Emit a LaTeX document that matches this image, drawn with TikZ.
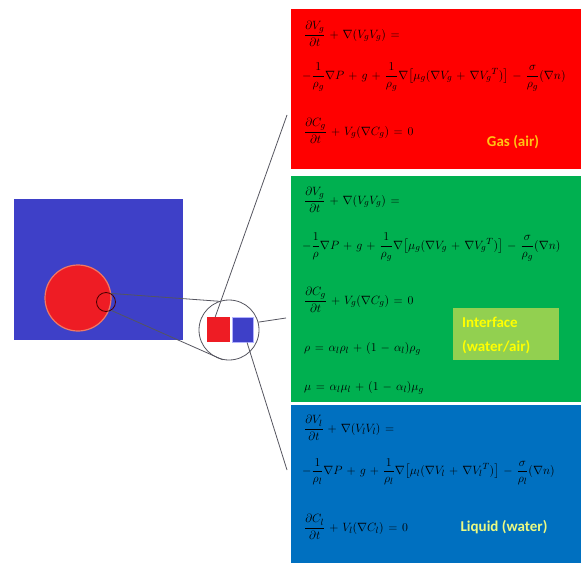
\documentclass[tikz,border=0pt]{standalone}
\usepackage{amsmath}
\usepackage{fontspec}
\newfontfamily\labelfont{Carlito}
\usetikzlibrary{calc}

\definecolor{gasred}{RGB}{255,0,0}
\definecolor{ifgreen}{RGB}{0,176,80}
\definecolor{liqblue}{RGB}{0,112,192}
\definecolor{domblue}{RGB}{62,64,200}
\definecolor{dropred}{RGB}{238,28,36}
\definecolor{droprim}{RGB}{240,120,100}
\definecolor{gaslabel}{RGB}{255,196,20}
\definecolor{iflabelbg}{RGB}{146,208,80}
\definecolor{iflabel}{RGB}{255,255,0}
\definecolor{liqlabel}{RGB}{235,250,130}
\definecolor{wire}{RGB}{85,85,95}

\newcommand{\eqspacing}{\medmuskip=6mu plus 2mu\thickmuskip=7mu plus 3mu}

\tikzset{
  panel/.style={anchor=north west, inner sep=0pt, minimum width=290pt},
  eqn/.style={anchor=west, inner sep=0pt, font=\fontsize{13}{15}\selectfont\eqspacing, text=black},
  tag/.style={font=\labelfont\bfseries\fontsize{15}{17}\selectfont, inner sep=0pt},
  wireline/.style={draw=wire, line width=0.8pt},
}

\begin{document}
\begin{tikzpicture}[x=1pt, y=-1pt]
\useasboundingbox (0,0) rectangle (585,564);

% ---- flow domain with the droplet ----
\node[anchor=north west, fill=domblue, minimum width=169pt, minimum height=141pt, inner sep=0pt] (domain) at (14,199) {};
\node[circle, fill=dropred, draw=droprim, line width=1.2pt, minimum size=66pt, inner sep=0pt] (drop) at (78,298) {};
\node[circle, draw=black!70!red, line width=0.8pt, minimum size=19pt, inner sep=0pt] (probe) at (106,302) {};

% ---- magnified interface ----
\node[circle, draw=wire, line width=0.8pt, minimum size=60pt, inner sep=0pt] (mag) at (229,330) {};
\node[anchor=north west, fill=dropred, minimum width=23pt, minimum height=25pt, inner sep=0pt] (rsq) at (207,317) {};
\node[anchor=north west, fill=domblue, draw=blue!30, line width=0.5pt, minimum width=21pt, minimum height=25pt, inner sep=0pt] (bsq) at (232,317) {};

% ---- panels ----
\node[panel, fill=gasred, minimum height=160pt] (gas) at (291,9) {};
\node[panel, fill=ifgreen, minimum height=226pt] (iface) at (291,176) {};
\node[panel, fill=liqblue, minimum height=158pt] (liq) at (291,405) {};

% gas phase equations
\node[eqn] (g1) at (304,34) {$\dfrac{\partial V_g}{\partial t}+\nabla(V_gV_g)=$};
\node[eqn] (g2) at (302,77) {$-\dfrac{1}{\rho_g}\nabla P+g+\dfrac{1}{\rho_g}\nabla\bigl[\mu_g(\nabla V_g+\nabla {V_g}^{T})\bigr]-\dfrac{\sigma}{\rho_g}(\nabla n)$};
\node[eqn] (g3) at (304,131) {$\dfrac{\partial C_g}{\partial t}+V_g(\nabla C_g)=0$};
\node[tag, text=gaslabel] (gastag) at (513,142) {Gas (air)};

% interface equations
\node[eqn] (i1) at (304,200) {$\dfrac{\partial V_g}{\partial t}+\nabla(V_gV_g)=$};
\node[eqn] (i2) at (302,247) {$-\dfrac{1}{\rho}\nabla P+g+\dfrac{1}{\rho_g}\nabla\bigl[\mu_g(\nabla V_g+\nabla {V_g}^{T})\bigr]-\dfrac{\sigma}{\rho_g}(\nabla n)$};
\node[eqn] (i3) at (304,300) {$\dfrac{\partial C_g}{\partial t}+V_g(\nabla C_g)=0$};
\node[eqn] (i4) at (304,349) {$\rho=\alpha_l\rho_l+(1-\alpha_l)\rho_g$};
\node[eqn] (i5) at (304,388) {$\mu=\alpha_l\mu_l+(1-\alpha_l)\mu_g$};
\node[anchor=north west, fill=iflabelbg, minimum width=106pt, minimum height=52pt, inner sep=0pt] (ifbox) at (453,308) {};
\node[tag, text=iflabel, anchor=west] (iftag1) at (462,322) {Interface};
\node[tag, text=iflabel, anchor=west] (iftag2) at (462,347) {(water/air)};

% liquid phase equations
\node[eqn] (l1) at (304,428) {$\dfrac{\partial V_l}{\partial t}+\nabla(V_lV_l)=$};
\node[eqn] (l2) at (302,472) {$-\dfrac{1}{\rho_l}\nabla P+g+\dfrac{1}{\rho_l}\nabla\bigl[\mu_l(\nabla V_l+\nabla {V_l}^{T})\bigr]-\dfrac{\sigma}{\rho_l}(\nabla n)$};
\node[eqn] (l3) at (304,527) {$\dfrac{\partial C_l}{\partial t}+V_l(\nabla C_l)=0$};
\node[tag, text=liqlabel] (liqtag) at (504,527) {Liquid (water)};

% ---- connectors ----
\coordinate (gasend) at (287,115);
\coordinate (ifend) at (286,318);
\coordinate (liqend) at (287,470);

\draw[wireline] (probe.60) -- (mag.109);
\draw[wireline] (probe.-58) -- (mag.-102);
\draw[wireline] ($(rsq.north west)!0.35!(rsq.north east)$) -- (gasend);
\draw[wireline] (mag.15) -- (ifend);
\draw[wireline] ($(bsq.south west)!0.7!(bsq.south east)$) -- (liqend);
\end{tikzpicture}
\end{document}
